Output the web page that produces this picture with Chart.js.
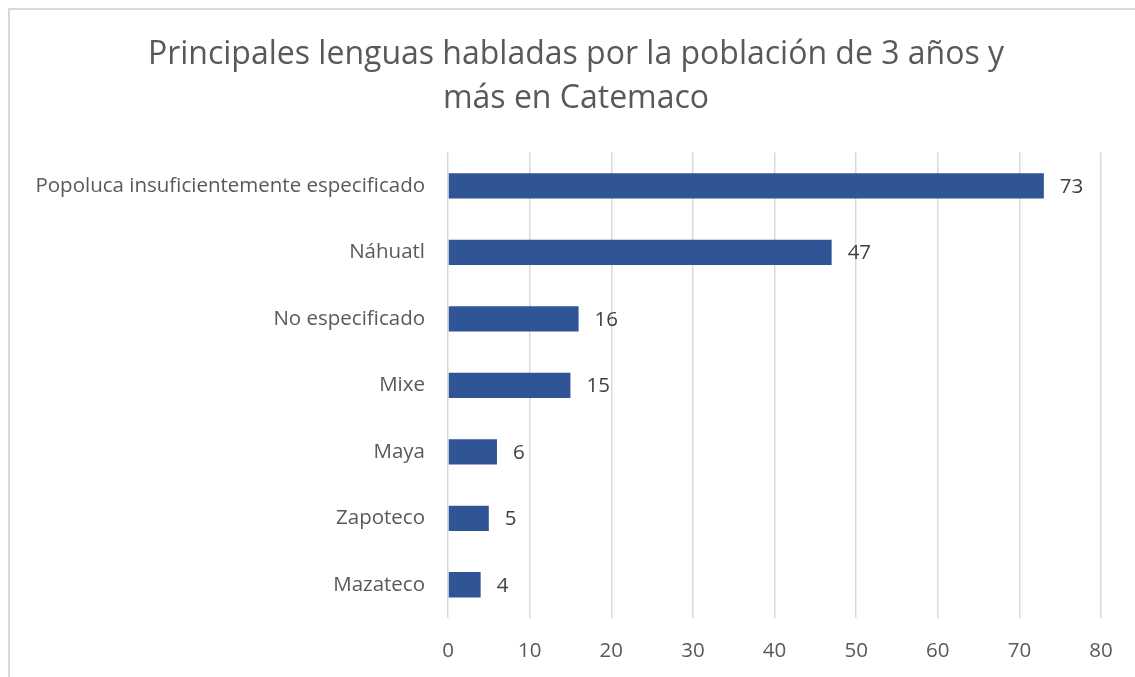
<!DOCTYPE html>
<html lang="es">
<head>
  <meta charset="UTF-8" />
  <title>Principales lenguas - Catemaco</title>
  <script src="https://cdn.jsdelivr.net/npm/chart.js"></script>
  <style>
    html, body { margin: 0; padding: 0; background: #fff; }
    .frame {
      position: absolute; left: 8px; top: 8px;
      width: 1200px; height: 760px;
      border-left: 2px solid #d9d9d9; border-top: 2px solid #d9d9d9;
    }
    .wrap { position: absolute; left: 0; top: 0; width: 1135px; height: 677px; }
  </style>
</head>
<body>
  <div class="frame"></div>
  <div class="wrap"><canvas id="langChart" width="1135" height="677"></canvas></div>

  <script>
    // Data
    const lenguas = [
      "Popoluca insuficientemente especificado",
      "Náhuatl",
      "No especificado",
      "Mixe",
      "Maya",
      "Zapoteco",
      "Mazateco"
    ];
    const hablantes = [73, 47, 16, 15, 6, 5, 4];
    const xTicks = [0, 10, 20, 30, 40, 50, 60, 70, 80];
    const titulo = ["Principales lenguas habladas por la población de 3 años y", "más en Catemaco"];

    const FONT = "'Open Sans', Lato, sans-serif";

    // value labels at the end of each bar
    const valueLabels = {
      id: "valueLabels",
      afterDatasetsDraw(chart) {
        const ctx = chart.ctx;
        const meta = chart.getDatasetMeta(0);
        ctx.save();
        ctx.font = "20.5px " + FONT;
        ctx.fillStyle = "#404040";
        ctx.textAlign = "left";
        ctx.textBaseline = "middle";
        meta.data.forEach((bar, i) => {
          ctx.fillText(String(hablantes[i]), bar.x + 16, bar.y + 1);
        });
        ctx.restore();
      }
    };

    new Chart(document.getElementById("langChart"), {
      type: "bar",
      data: {
        labels: lenguas,
        datasets: [{
          data: hablantes,
          backgroundColor: "#2F5597",
          borderColor: "#2F5597",
          borderWidth: 0,
          barPercentage: 0.38,
          categoryPercentage: 1
        }]
      },
      options: {
        indexAxis: "y",
        responsive: false,
        animation: false,
        layout: { padding: { left: 17, right: 0, top: 0, bottom: 0 } },
        plugins: {
          legend: { display: false },
          tooltip: { enabled: false },
          title: {
            display: true,
            text: titulo,
            color: "#595959",
            font: { family: FONT, size: 32, weight: "normal", lineHeight: 1.4 },
            padding: { top: 32, bottom: 31 }
          }
        },
        scales: {
          x: {
            min: 0,
            max: 80,
            afterBuildTicks: (s) => { s.ticks = xTicks.map(v => ({ value: v })); },
            afterFit: (s) => { s.height = 59; },
            grid: { color: "#d9d9d9", lineWidth: 1.5, drawTicks: false },
            border: { display: false },
            ticks: {
              color: "#595959",
              padding: 21,
              maxRotation: 0,
              font: { family: FONT, size: 20.5 }
            }
          },
          y: {
            afterFit: (s) => { s.width = 431; },
            grid: { display: false, drawTicks: false },
            border: { display: false },
            ticks: {
              color: "#595959",
              padding: 23,
              font: { family: FONT, size: 20.5 }
            }
          },
          yPad: {
            type: "linear",
            position: "right",
            display: true,
            afterFit: (s) => { s.width = 34; },
            grid: { display: false, drawTicks: false },
            border: { display: false },
            ticks: { display: false }
          }
        }
      },
      plugins: [valueLabels]
    });
  </script>
</body>
</html>
